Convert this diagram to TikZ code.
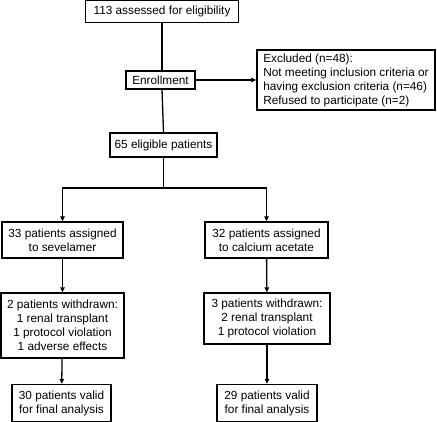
\documentclass[tikz,border=0pt]{standalone}
\usepackage{fontspec}
\setmainfont{Liberation Sans}
\usepackage{tikz}
\usetikzlibrary{arrows.meta}
\tikzset{every picture/.style={line width=1.3pt}}
\tikzset{box/.style={draw, fill=white, inner sep=0pt, align=center, font=\fontsize{11.8}{14}\selectfont},
  arr/.style={-{Triangle[length=5pt,width=4.5pt]}}}

\begin{document}
\begin{tikzpicture}[x=1pt,y=1pt,yscale=-1,xscale=1]
\useasboundingbox (0,0) rectangle (437,422);

% Text Node
\node [box, minimum width=153pt, minimum height=21.5pt] (elig) at (162,11.5) {113 assessed for eligibility};
% Text Node
\node [box, minimum width=69pt, minimum height=18pt] (enroll) at (160.5,80) {Enrollment};
% Text Node
\node [box, minimum width=178pt, minimum height=60pt, align=left] (excl) at (346,80) {Excluded (n=48):\\Not meeting inclusion criteria or\\having exclusion criteria (n=46)\\Refused to participate (n=2)};
% Text Node
\node [box, minimum width=107pt, minimum height=24pt] (elig65) at (163.5,145) {65 eligible patients};
% Text Node
\node [box, minimum width=121pt, minimum height=36pt] (sev) at (62.5,240) {33 patients assigned\\to sevelamer};
% Text Node
\node [box, minimum width=123pt, minimum height=36pt] (cal) at (266.5,240) {32 patients assigned\\to calcium acetate};
% Text Node
\node [box, minimum width=123pt, minimum height=65pt] (wdl) at (62.5,325.5) {2 patients withdrawn:\\1 renal transplant\\1 protocol violation\\1 adverse effects};
% Text Node
\node [box, minimum width=126pt, minimum height=51pt] (wdr) at (267,318.5) {3 patients withdrawn:\\2 renal transplant\\1 protocol violation};
% Text Node
\node [box, minimum width=99pt, minimum height=37pt] (finl) at (61.5,403) {30 patients valid\\for final analysis};
% Text Node
\node [box, minimum width=100pt, minimum height=37pt] (finr) at (267,403) {29 patients valid\\for final analysis};

\coordinate (split) at (elig65.south |- 0,188);

% Straight Lines
\draw (elig.south) -- (elig.south |- enroll.north);
\draw (elig.south |- enroll.south) -- (elig65.north);
\draw [arr] (enroll.east) -- (excl.west |- enroll.east);
\draw (elig65.south) -- (split);
\draw [arr] (split) -| (sev.north);
\draw [arr] (split) -| (cal.north);
\draw [arr] (sev) -- (wdl);
\draw [arr] (cal) -- (wdr);
\draw [arr] (wdl) -- (finl);
\draw [arr] (wdr) -- (finr);

\end{tikzpicture}
\end{document}
